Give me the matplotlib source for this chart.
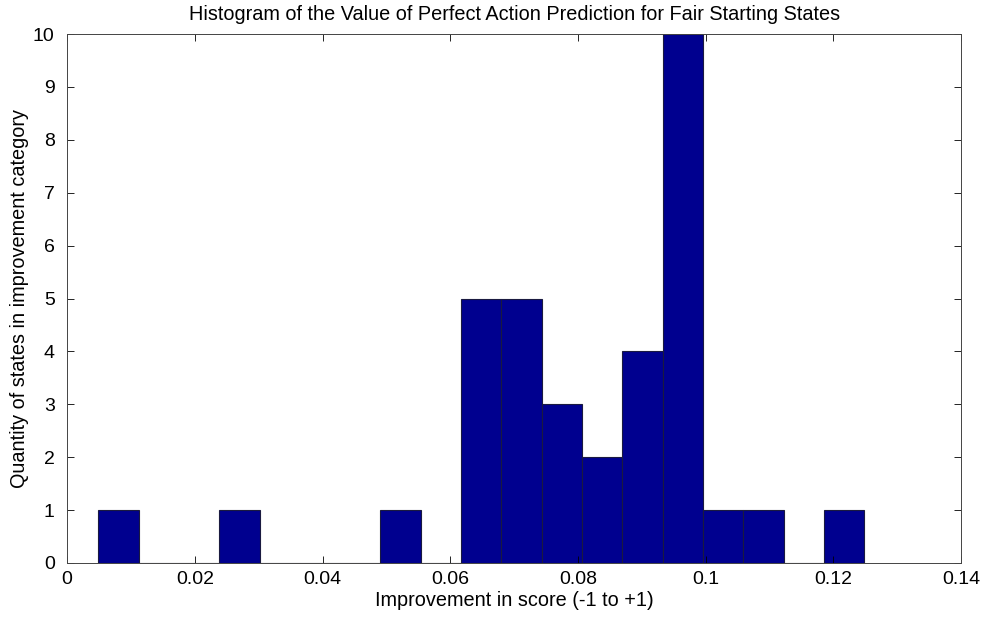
import numpy as np
import matplotlib
matplotlib.use("Agg")
import matplotlib.pyplot as plt

# histogram: 19 equal bins between the lowest and highest value
bin_lo = 0.00487
bin_hi = 0.12485
counts = [1, 0, 0, 1, 0, 0, 0, 1, 0, 5, 5, 3, 2, 4, 10, 1, 1, 0, 1]

x_ticks = [0, 0.02, 0.04, 0.06, 0.08, 0.1, 0.12, 0.14]
x_tick_labels = ["0", "0.02", "0.04", "0.06", "0.08", "0.1", "0.12", "0.14"]
y_ticks = list(range(11))

plt.rcParams["font.family"] = ["Liberation Sans", "DejaVu Sans"]

edges = np.linspace(bin_lo, bin_hi, len(counts) + 1)

fig = plt.figure(figsize=(9.88, 6.19), dpi=100)
ax = fig.add_axes([0.068, 0.0905, 0.9047, 0.8545])
ax.bar(edges[:-1], counts, width=np.diff(edges), align="edge",
       color="#00008f", edgecolor="#1a1a40", linewidth=0.8)

ax.set_xlim(0, 0.14)
ax.set_ylim(0, 10)
ax.set_xticks(x_ticks)
ax.set_xticklabels(x_tick_labels)
ax.set_yticks(y_ticks)
ax.tick_params(direction="in", top=True, right=True, length=5, width=0.6,
               labelsize=14, colors="black")
ax.tick_params(axis="x", pad=6)
ax.tick_params(axis="y", pad=9)
for s in ax.spines.values():
    s.set_linewidth(0.7)
    s.set_color("#444444")

ax.set_title("Histogram of the Value of Perfect Action Prediction for Fair Starting States",
             fontsize=14.3, pad=10)
ax.set_xlabel("Improvement in score (-1 to +1)", fontsize=14.3, labelpad=2)
ax.set_ylabel("Quantity of states in improvement category", fontsize=14.3, labelpad=3)

fig.savefig("out.png", dpi=100)
